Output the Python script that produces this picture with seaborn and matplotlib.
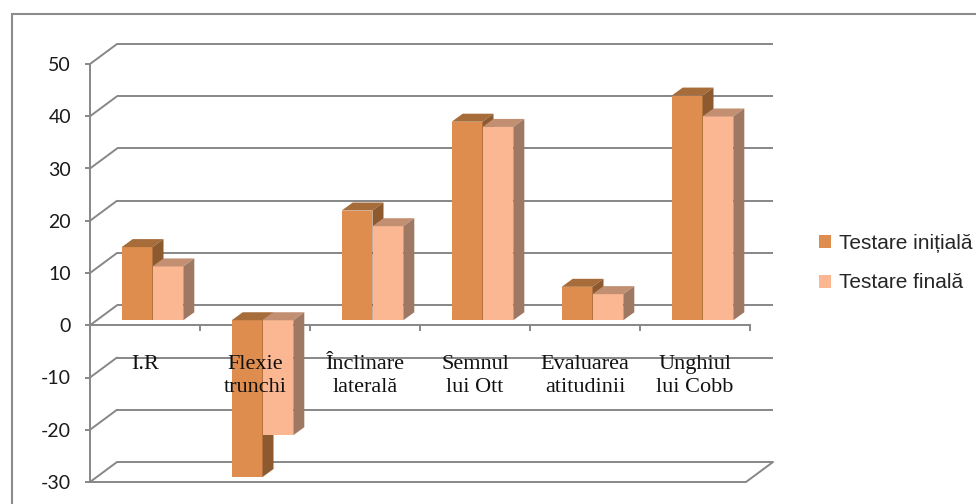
import matplotlib
matplotlib.use("Agg")
import matplotlib.pyplot as plt
import matplotlib.transforms as mtransforms
from matplotlib.patches import Polygon, Rectangle
import pandas as pd
import seaborn as sns

# ---- data -------------------------------------------------------------
categories = ["I.R", "Flexie\ntrunchi", "Înclinare\nlaterală",
              "Semnul\nlui Ott", "Evaluarea\natitudinii", "Unghiul\nlui Cobb"]
testare_initiala = [14, -30, 21, 38, 6.4, 43]
testare_finala = [10.3, -22, 18, 37, 5, 39]
series_names = ["Testare inițială", "Testare finală"]
y_ticks = [-30, -20, -10, 0, 10, 20, 30, 40, 50]

# ---- style ------------------------------------------------------------
front_colors = ["#DE8D4F", "#FAB792"]
top_colors = ["#A66C39", "#C28F73"]
side_colors = ["#8C5A2E", "#9E7863"]
grid_color = "#878787"
line_w = 1.4

sns.set_theme(style="white")
plt.rcParams["axes.unicode_minus"] = False

W, H, DPI = 976, 504, 100
fig = plt.figure(figsize=(W / DPI, H / DPI), dpi=DPI)
fig.patch.set_facecolor("white")

# front plane of the plot, in pixels
left_px, right_px, top_px, bottom_px = 90, 750, 64, 482
ax = fig.add_axes([left_px / W, 1 - bottom_px / H,
                   (right_px - left_px) / W, (bottom_px - top_px) / H])
ax.set_facecolor("none")

ymin, ymax = y_ticks[0], y_ticks[-1]
ncat = len(categories)
px_x = (right_px - left_px) / ncat          # pixels per category
px_y = (bottom_px - top_px) / (ymax - ymin)  # pixels per value unit


def shifted(dx_px, dy_px):
    return ax.transData + mtransforms.ScaledTranslation(
        dx_px / DPI, dy_px / DPI, fig.dpi_scale_trans)


# depth of the walls and of the columns (pixels, right / up)
wall_dx, wall_dy = 27, 20
bar_off_dx, bar_off_dy = 7.5, 5
bar_dx, bar_dy = 11, 8
wall_right = ncat - 0.5 - 4 / px_x

# ---- back wall, side wall and floor -------------------------------------
back = shifted(wall_dx, wall_dy)
for v in y_ticks:
    ax.plot([-0.5, wall_right], [v, v], transform=back, color=grid_color,
            lw=line_w, clip_on=False, zorder=0.5, solid_capstyle="butt")
    ax.plot([-0.5, -0.5 + wall_dx / px_x], [v, v + wall_dy / px_y],
            color=grid_color, lw=line_w, clip_on=False, zorder=0.6)
# floor front edge and right edge
ax.plot([-0.5, wall_right, wall_right + wall_dx / px_x],
        [ymin, ymin, ymin + wall_dy / px_y],
        color=grid_color, lw=line_w, clip_on=False, zorder=0.6)

# ---- columns ----------------------------------------------------------
df = pd.DataFrame({
    "Categorie": categories * 2,
    "Valoare": testare_initiala + testare_finala,
    "Testare": [series_names[0]] * ncat + [series_names[1]] * ncat,
})
sns.barplot(data=df, x="Categorie", y="Valoare", hue="Testare",
            hue_order=series_names, order=categories,
            palette=front_colors, width=0.56, gap=0, saturation=1,
            legend=False, errorbar=None, ax=ax)

bar_tr = shifted(bar_off_dx, bar_off_dy)
ddx, ddy = bar_dx / px_x, bar_dy / px_y
for k, container in enumerate(ax.containers):
    for patch in container:
        patch.set_transform(bar_tr)
        patch.set_edgecolor("none")
        patch.set_linewidth(0)
        patch.set_zorder(2 + k)
        x0 = patch.get_x()
        x1 = x0 + patch.get_width()
        ya = patch.get_y()
        yb = ya + patch.get_height()
        lo, hi = min(ya, yb), max(ya, yb)
        top = Polygon([(x0, hi), (x1, hi), (x1 + ddx, hi + ddy), (x0 + ddx, hi + ddy)],
                      closed=True, facecolor=top_colors[k], edgecolor="none",
                      transform=bar_tr, zorder=2 + k + 0.1, clip_on=False)
        side = Polygon([(x1, lo), (x1, hi), (x1 + ddx, hi + ddy), (x1 + ddx, lo + ddy)],
                       closed=True, facecolor=side_colors[k], edgecolor="none",
                       transform=bar_tr, zorder=2 + k + 0.1, clip_on=False)
        ax.add_patch(top)
        ax.add_patch(side)

# ---- axes -------------------------------------------------------------
ax.set_xlim(-0.5, ncat - 0.5)
ax.set_ylim(ymin, ymax)
ax.set_xlabel("")
ax.set_ylabel("")

for s in ("top", "right"):
    ax.spines[s].set_visible(False)
ax.spines["left"].set_color(grid_color)
ax.spines["left"].set_linewidth(line_w)
ax.spines["bottom"].set_position(("data", 0))
ax.spines["bottom"].set_color(grid_color)
ax.spines["bottom"].set_linewidth(line_w)
ax.spines["bottom"].set_zorder(1)

ax.set_yticks(y_ticks)
ax.set_yticklabels([str(v) for v in y_ticks])
ax.tick_params(axis="y", direction="out", length=3.6, width=line_w,
               color=grid_color, pad=10, labelsize=14, labelcolor="#1a1a1a",
               left=True)
for lab in ax.get_yticklabels():
    lab.set_family("Lato")

ax.set_xticks([i - 0.5 for i in range(ncat + 1)])
ax.set_xticklabels([])
ax.tick_params(axis="x", direction="out", length=4.3, width=line_w,
               color=grid_color, bottom=True)

for i, name in enumerate(categories):
    ax.text(i, -5.7, name, ha="center", va="top", fontsize=16,
            family="Liberation Serif", color="#111111", linespacing=1.26,
            zorder=10)

# ---- legend -----------------------------------------------------------
handles = [c.patches[0] for c in ax.containers]
ax.legend(handles, series_names, loc="center left",
          bbox_to_anchor=((808 - 8) / W, (H - 263) / H),
          bbox_transform=fig.transFigure, frameon=False,
          prop={"family": "Liberation Sans", "size": 15},
          handlelength=0.58, handleheight=0.58, handletextpad=0.4,
          labelspacing=1.0, borderpad=0.4)

# ---- chart border -----------------------------------------------------
fig.add_artist(Rectangle((12 / W, -0.1), 1.2, (H - 14) / H + 0.1,
                         transform=fig.transFigure, fill=False,
                         edgecolor="#8C8C8C", lw=1.5))

fig.savefig("out.png", dpi=DPI)
